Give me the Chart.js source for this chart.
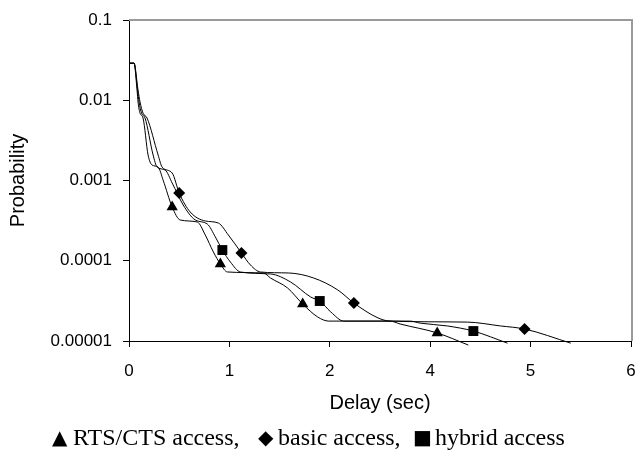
<!DOCTYPE html>
<html>
<head>
<meta charset="utf-8">
<script src="https://cdn.jsdelivr.net/npm/chart.js@4.4.0/dist/chart.umd.min.js"></script>
<style>
    html, body { margin: 0; padding: 0; background: #fff; }
    #wrap { position: relative; width: 639px; height: 457px; }
    #leyenda { position: absolute; left: 0; top: 0; width: 639px; height: 457px; pointer-events: none;
               font-family: "Liberation Serif", "Times New Roman", serif; font-size: 24px; color: #000; }
    #leyenda span { position: absolute; top: 425px; line-height: 24px; white-space: nowrap; }
    #leyenda span.sim { font-family: "DejaVu Sans", sans-serif; font-size: 20px; }
</style>
</head>
<body>
<div id="wrap">
    <canvas id="grafico" width="639" height="457"></canvas>
    <div id="leyenda"></div>
</div>
<script>
// x is given in axis positions (the axis is labelled 0,1,2,4,5,6 at even steps)
const xTickLabels = ['0', '1', '2', '4', '5', '6'];
const yTickValues = [0.00001, 0.0001, 0.001, 0.01, 0.1];
const yTickLabels = ['0.00001', '0.0001', '0.001', '0.01', '0.1'];

const seriesNames = ['RTS/CTS access,', 'basic access,', 'hybrid access'];

// RTS/CTS access (triangles)
const rtsX = [0, 0.05, 0.08, 0.09, 0.11, 0.14, 0.19, 0.23, 0.29, 0.34, 0.43, 0.51, 0.68, 0.76, 0.84, 0.91, 0.98,
    1.34, 1.41, 1.58, 1.73, 1.88, 1.99, 2.60, 2.70, 3.07, 3.38];
const rtsY = [0.029, 0.029, 0.0134, 0.0095, 0.0069, 0.0060, 0.00208, 0.00156, 0.00147, 0.00101, 0.000468, 0.000322,
    0.000304, 0.000209, 0.000129, 0.0000912, 0.0000725, 0.0000704, 0.0000609, 0.0000457, 0.0000289, 0.0000199,
    0.0000177, 0.0000177, 0.0000163, 0.0000126, 0.0000089];
const rtsMarcas = [10, 15, 20, 25];

// hybrid access (squares)
const hybX = [0, 0.05, 0.085, 0.10, 0.125, 0.16, 0.24, 0.28, 0.36, 0.43, 0.54, 0.66, 0.78, 0.86, 0.93, 1.01, 1.11,
    1.41, 1.61, 1.81, 1.90, 2.01, 2.14, 2.80, 2.90, 3.17, 3.43, 3.77];
const hybY = [0.029, 0.029, 0.0134, 0.0095, 0.0069, 0.0060, 0.00208, 0.00147, 0.00135, 0.00093, 0.000495, 0.000322,
    0.000287, 0.000198, 0.000136, 0.0000964, 0.0000724, 0.0000684, 0.0000543, 0.0000353, 0.0000315, 0.000023,
    0.0000177, 0.0000177, 0.0000167, 0.0000154, 0.0000133, 0.0000094];
const hybMarcas = [14, 20, 26];

// basic access (diamonds)
const basX = [0, 0.05, 0.09, 0.11, 0.14, 0.18, 0.29, 0.33, 0.43, 0.50, 0.61, 0.76, 0.89, 0.99, 1.12, 1.21, 1.31,
    1.59, 1.84, 2.08, 2.24, 2.48, 2.60, 3.37, 3.70, 3.94, 4.40];
const basY = [0.029, 0.029, 0.0134, 0.0095, 0.0069, 0.0060, 0.00208, 0.00147, 0.00124, 0.000698, 0.000405, 0.000313,
    0.000295, 0.000209, 0.000125, 0.0000885, 0.0000724, 0.0000704, 0.0000609, 0.0000432, 0.0000297, 0.0000194,
    0.0000177, 0.0000172, 0.0000154, 0.0000141, 0.0000094];
const basMarcas = [9, 14, 20, 25];

function serie(label, xs, ys, marcas, estilo, radio) {
    return {
        label,
        data: xs.map((x, i) => ({ x, y: ys[i] })),
        borderColor: '#000', borderWidth: 1,
        backgroundColor: '#000',
        cubicInterpolationMode: 'monotone',
        pointStyle: estilo,
        pointRadius: ctx => marcas.includes(ctx.dataIndex) ? radio : 0,
        pointHoverRadius: 0,
        pointBorderWidth: 0,
        clip: { left: 0, top: 0, right: 0, bottom: 6 }
    };
}

// marco gris arriba y a la derecha del area de trazado
const marco = {
    id: 'marco',
    afterDraw(chart) {
        const { ctx, chartArea: a } = chart;
        ctx.save();
        ctx.strokeStyle = '#9a9a9a';
        ctx.lineWidth = 2;
        ctx.beginPath();
        ctx.moveTo(a.left, a.top);
        ctx.lineTo(a.right + 1, a.top);
        ctx.lineTo(a.right + 1, a.bottom);
        ctx.stroke();
        ctx.restore();
    }
};

const fuenteTick = { family: 'Arial, "Liberation Sans", sans-serif', size: 17 };
const fuenteTitulo = { family: 'Arial, "Liberation Sans", sans-serif', size: 20 };

new Chart(document.getElementById('grafico'), {
    type: 'line',
    data: {
        datasets: [
            serie(seriesNames[0], rtsX, rtsY, rtsMarcas, 'triangle', 6.5),
            serie(seriesNames[1], basX, basY, basMarcas, 'rectRot', 6),
            serie(seriesNames[2], hybX, hybY, hybMarcas, 'rect', 7)
        ]
    },
    options: {
        responsive: false, animation: false,
        layout: { padding: { top: 20, right: 8, bottom: 0, left: 0 } },
        plugins: { legend: { display: false }, tooltip: { enabled: false } },
        scales: {
            x: {
                type: 'linear', min: 0, max: 5,
                afterFit: s => { s.height = 116; s.paddingLeft = 0; s.paddingRight = 0; },
                afterBuildTicks: s => { s.ticks = xTickLabels.map((_, i) => ({ value: i })); },
                ticks: { color: '#000', font: fuenteTick, padding: 14, callback: (v, i) => xTickLabels[i] },
                grid: { drawOnChartArea: false, drawTicks: true, tickLength: 6, color: '#000' },
                border: { color: '#000', width: 1 },
                title: { display: true, text: 'Delay (sec)', color: '#000', font: fuenteTitulo, padding: { top: 0, bottom: 42 } }
            },
            y: {
                type: 'logarithmic', min: 0.00001, max: 0.1,
                afterFit: s => { s.width = 129; s.paddingTop = 0; s.paddingBottom = 0; },
                afterBuildTicks: s => { s.ticks = yTickValues.map(v => ({ value: v })); },
                ticks: { color: '#000', font: fuenteTick, padding: 11, callback: (v, i) => yTickLabels[i] },
                grid: { drawOnChartArea: false, drawTicks: true, tickLength: 6, color: '#000' },
                border: { color: '#000', width: 1 },
                title: { display: true, text: 'Probability', color: '#000', font: fuenteTitulo, padding: { top: 6, bottom: 0 } }
            }
        }
    },
    plugins: [marco]
});

// leyenda como texto debajo del grafico
const simbolos = ['▲', '◆', '■'];
const posSimbolo = [52, 258, 413];
const posTexto = [73, 278, 435];
const leyenda = document.getElementById('leyenda');
seriesNames.forEach((nombre, i) => {
    const s = document.createElement('span');
    s.className = 'sim';
    s.style.left = posSimbolo[i] + 'px';
    s.textContent = simbolos[i];
    leyenda.appendChild(s);
    const t = document.createElement('span');
    t.style.left = posTexto[i] + 'px';
    t.textContent = nombre;
    leyenda.appendChild(t);
});
</script>
</body>
</html>
